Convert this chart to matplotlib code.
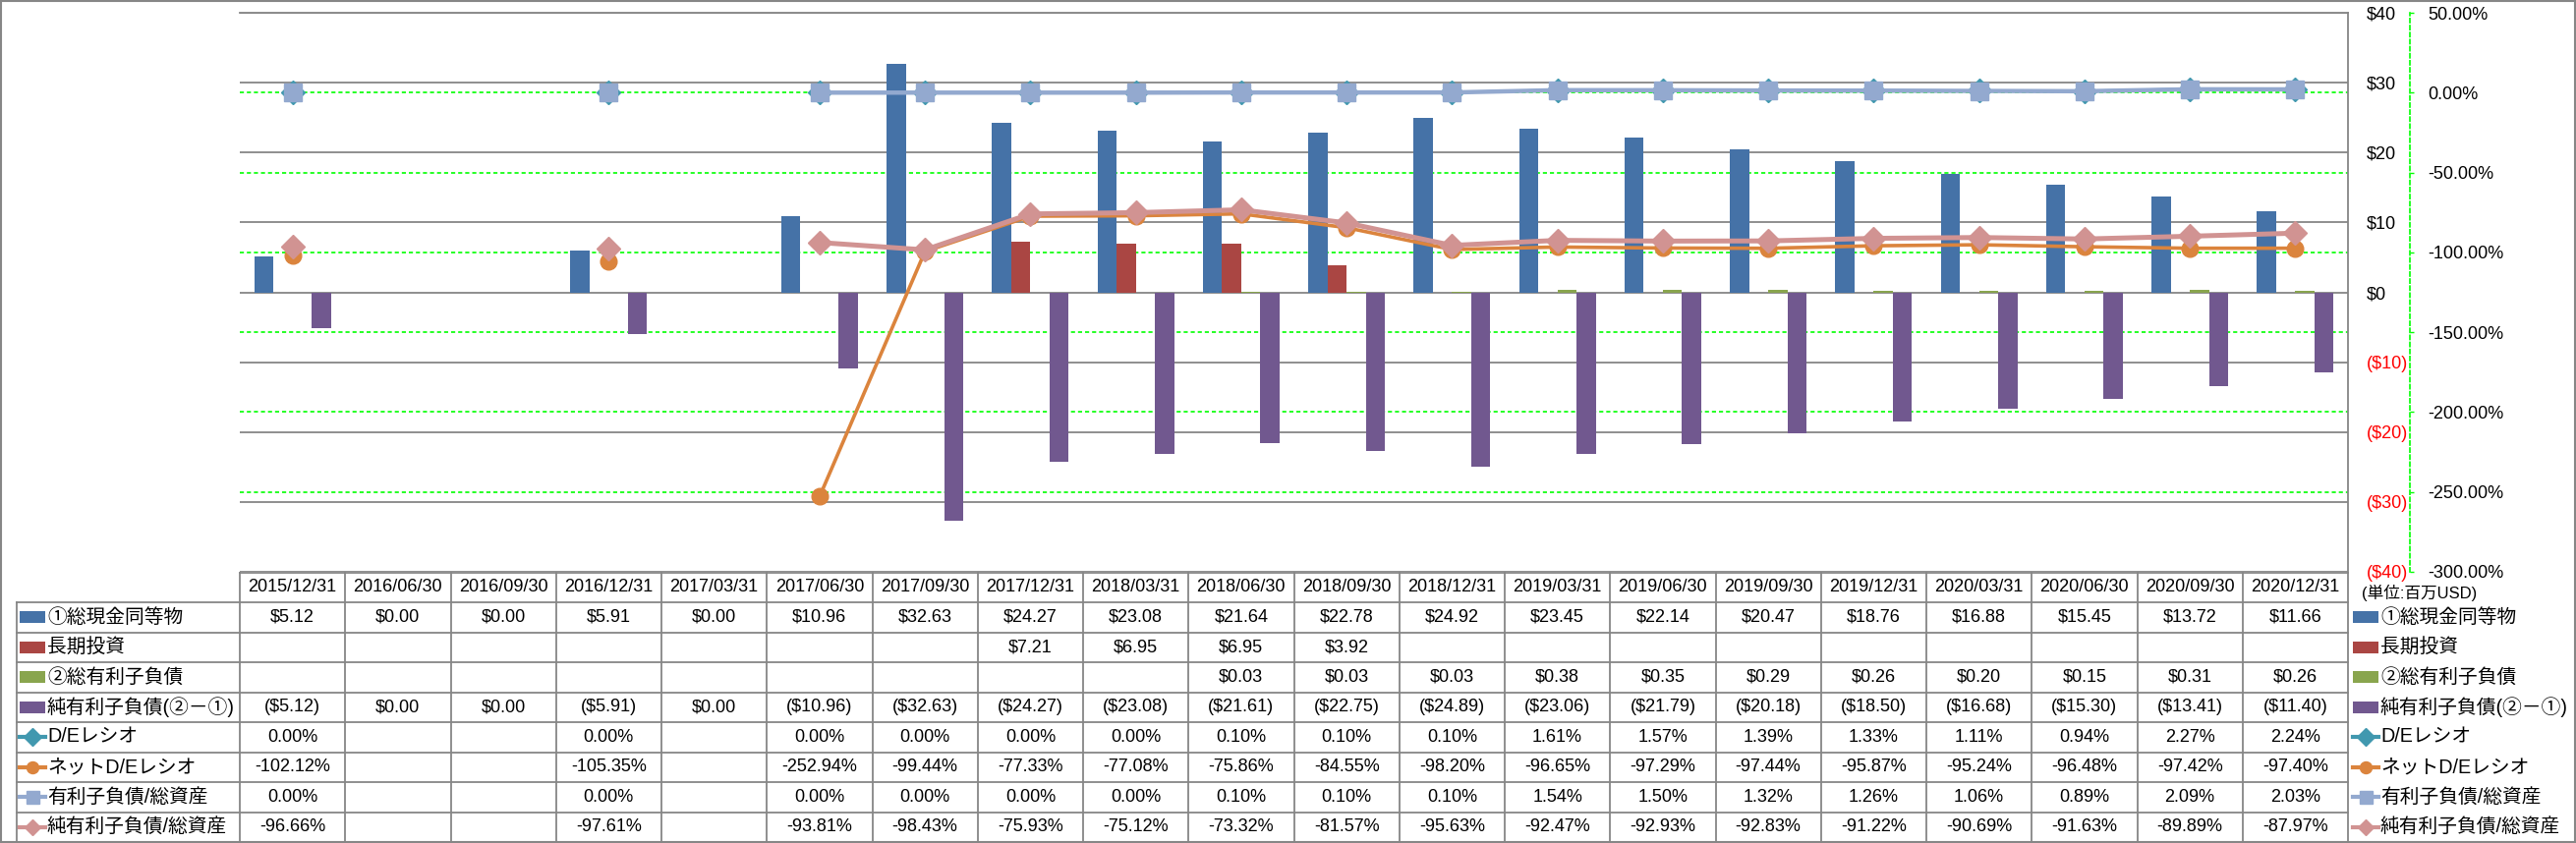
import numpy as np
import matplotlib
matplotlib.use("Agg")
import matplotlib.pyplot as plt
from matplotlib.transforms import blended_transform_factory
from matplotlib.lines import Line2D
from matplotlib.patches import Rectangle

plt.rcParams['font.family'] = ['Liberation Sans', 'Noto Sans CJK JP', 'DejaVu Sans']

nan = np.nan
dates = ["2015/12/31", "2016/06/30", "2016/09/30", "2016/12/31", "2017/03/31",
         "2017/06/30", "2017/09/30", "2017/12/31", "2018/03/31", "2018/06/30",
         "2018/09/30", "2018/12/31", "2019/03/31", "2019/06/30", "2019/09/30",
         "2019/12/31", "2020/03/31", "2020/06/30", "2020/09/30", "2020/12/31"]

cash = [5.12, 0.00, 0.00, 5.91, 0.00, 10.96, 32.63, 24.27, 23.08, 21.64,
        22.78, 24.92, 23.45, 22.14, 20.47, 18.76, 16.88, 15.45, 13.72, 11.66]
lt_invest = [nan, nan, nan, nan, nan, nan, nan, 7.21, 6.95, 6.95,
             3.92, nan, nan, nan, nan, nan, nan, nan, nan, nan]
debt = [nan, nan, nan, nan, nan, nan, nan, nan, nan, 0.03,
        0.03, 0.03, 0.38, 0.35, 0.29, 0.26, 0.20, 0.15, 0.31, 0.26]
net_debt = [-5.12, 0.00, 0.00, -5.91, 0.00, -10.96, -32.63, -24.27, -23.08, -21.61,
            -22.75, -24.89, -23.06, -21.79, -20.18, -18.50, -16.68, -15.30, -13.41, -11.40]

de_ratio = [0.00, nan, nan, 0.00, nan, 0.00, 0.00, 0.00, 0.00, 0.10,
            0.10, 0.10, 1.61, 1.57, 1.39, 1.33, 1.11, 0.94, 2.27, 2.24]
net_de_ratio = [-102.12, nan, nan, -105.35, nan, -252.94, -99.44, -77.33, -77.08, -75.86,
                -84.55, -98.20, -96.65, -97.29, -97.44, -95.87, -95.24, -96.48, -97.42, -97.40]
debt_assets = [0.00, nan, nan, 0.00, nan, 0.00, 0.00, 0.00, 0.00, 0.10,
               0.10, 0.10, 1.54, 1.50, 1.32, 1.26, 1.06, 0.89, 2.09, 2.03]
net_debt_assets = [-96.66, nan, nan, -97.61, nan, -93.81, -98.43, -75.93, -75.12, -73.32,
                   -81.57, -95.63, -92.47, -92.93, -92.83, -91.22, -90.69, -91.63, -89.89, -87.97]

bar_names = ["①総現金同等物", "長期投資", "②総有利子負債", "純有利子負債(②－①)"]
line_names = ["D/Eレシオ", "ネットD/Eレシオ", "有利子負債/総資産", "純有利子負債/総資産"]
unit_label = "(単位:百万USD)"

bar_series = [cash, lt_invest, debt, net_debt]
bar_colors = ["#4572A7", "#AA4643", "#89A54E", "#71588F"]
line_series = [de_ratio, net_de_ratio, debt_assets, net_debt_assets]
line_styles = [
    dict(color="#4198AF", marker="D", ms=12.5, lw=2.0),
    dict(color="#DB843D", marker="o", ms=12.0, lw=2.6),
    dict(color="#93A9CF", marker="s", ms=13.0, lw=3.2),
    dict(color="#D19392", marker="D", ms=12.0, lw=3.6),
]

W, H = 2621, 858
PX = 72 / 100  # points per pixel
fig = plt.figure(figsize=(W / 100, H / 100), dpi=100)
fig.patch.set_facecolor("white")

L, R, T, B = 244, 2389, 13, 582
GRAY = "#868686"
GREEN = "#00FF00"
FS = 13
FS_LAB = 14.2

tab = fig.add_axes([0, 0, 1, 1], zorder=0)
tab.set_xlim(0, W)
tab.set_ylim(H, 0)
tab.axis("off")
tab.patch.set_alpha(0)

ax = fig.add_axes([L / W, 1 - B / H, (R - L) / W, (B - T) / H], zorder=1)
ax.patch.set_alpha(0)
ax2 = ax.twinx()
ax2.patch.set_alpha(0)

n = len(dates)
x = np.arange(n)
ax.set_xlim(-0.5, n - 0.5)
ax.set_ylim(-40, 40)
ax2.set_ylim(-300, 50)

ax.set_yticks(np.arange(-40, 41, 10))
ax.yaxis.grid(True, color=GRAY, lw=1.3, zorder=0)
ax.set_axisbelow(True)
blend_pct = blended_transform_factory(ax.transAxes, ax2.transData)
for p in np.arange(-250, 1, 50):
    ax.add_line(Line2D([0, 1], [p, p], transform=blend_pct, color=GREEN,
                       lw=1.2, ls=(0, (2.5, 1.8)), zorder=0.6))

bw = 0.182
offs = [-1.5, -0.5, 0.5, 1.5]
for vals, col, o in zip(bar_series, bar_colors, offs):
    ax.bar(x + o * bw, np.array(vals, dtype=float), width=bw, color=col, zorder=2, linewidth=0)

for vals, st in zip(line_series, line_styles):
    ax2.plot(x, np.array(vals, dtype=float), color=st["color"], lw=st["lw"],
             marker=st["marker"], ms=st["ms"], mfc=st["color"], mec=st["color"],
             mew=1.0, solid_joinstyle="round", zorder=3)

ax.set_xticks([])
ax.yaxis.tick_right()
ax.tick_params(axis="y", length=0, pad=19 * PX, labelsize=FS)
def money_tick(v):
    if v < 0:
        return f"(${-v:.0f})"
    return f"${v:.0f}"
yt = np.arange(-40, 41, 10)
ax.set_yticklabels([money_tick(v) for v in yt])
for lab, v in zip(ax.get_yticklabels(), yt):
    lab.set_color("red" if v < 0 else "black")
for s in ["left", "bottom"]:
    ax.spines[s].set_visible(False)
for s in ["top", "right"]:
    ax.spines[s].set_color(GRAY)
    ax.spines[s].set_linewidth(1.3)

pt = np.arange(-300, 51, 50)
ax2.set_yticks(pt)
ax2.set_yticklabels([f"{v:.2f}%" for v in pt])
for lab, v in zip(ax2.get_yticklabels(), pt):
    lab.set_color("red" if v < 0 else "black")
ax2.tick_params(axis="y", length=4 * PX, width=1, color=GREEN, pad=14 * PX, labelsize=FS)
for s in ["left", "bottom", "top"]:
    ax2.spines[s].set_visible(False)
ax2.spines["right"].set_position(("outward", 63 * PX))
ax2.spines["right"].set_color(GREEN)
ax2.spines["right"].set_linestyle((0, (2.5, 1.8)))
ax2.spines["right"].set_linewidth(1.2)

# ---------- data table ----------
colT = blended_transform_factory(ax.transData, tab.transData)
hdr_top, hdr_bot = 583, 613
row_h = 30.5
row_tops = [hdr_bot + i * row_h for i in range(9)]
tbl_bot = row_tops[-1]
LEFT = 17

tab.plot([-0.5, n - 0.5], [hdr_top, hdr_top], transform=colT, color=GRAY, lw=1.3)
for yv in row_tops:
    tab.plot([LEFT, R], [yv, yv], color=GRAY, lw=1.3)
for b in range(n + 1):
    tab.plot([b - 0.5, b - 0.5], [hdr_top, tbl_bot], transform=colT, color=GRAY, lw=1.3)
tab.plot([LEFT, LEFT], [hdr_bot, tbl_bot], color=GRAY, lw=1.3)

for i, d in enumerate(dates):
    tab.text(i, (hdr_top + hdr_bot) / 2, d, transform=colT, ha="center", va="center", fontsize=FS)

def fmt_money(v):
    if np.isnan(v):
        return ""
    if v < 0:
        return f"(${-v:.2f})"
    return f"${v:.2f}"

def fmt_pct(v):
    if np.isnan(v):
        return ""
    return f"{v:.2f}%"

rows = [(bar_names[k], bar_series[k], fmt_money) for k in range(4)] + \
       [(line_names[k], line_series[k], fmt_pct) for k in range(4)]
for r, (name, vals, f) in enumerate(rows):
    yc = (row_tops[r] + row_tops[r + 1]) / 2
    for i, v in enumerate(vals):
        s = f(float(v))
        if s:
            tab.text(i, yc, s, transform=colT, ha="center", va="center", fontsize=FS)

def draw_key(x0, yc, k):
    if k < 4:
        tab.add_patch(Rectangle((x0, yc - 6), 26, 12, color=bar_colors[k], lw=0))
    else:
        st = line_styles[k - 4]
        tab.plot([x0, x0 + 26], [yc, yc], color=st["color"], lw=3)
        tab.plot([x0 + 13], [yc], marker=st["marker"], ms=st["ms"] * 0.72,
                 color=st["color"], mec=st["color"])

for r, (name, vals, f) in enumerate(rows):
    yc = (row_tops[r] + row_tops[r + 1]) / 2
    draw_key(20, yc, r)
    tab.text(48, yc, name, ha="left", va="center", fontsize=FS_LAB)
    draw_key(2394, yc, r)
    tab.text(2422, yc, name, ha="left", va="center", fontsize=FS_LAB)

tab.text(2403, 603, unit_label, ha="left", va="center", fontsize=12)

tab.add_patch(Rectangle((1, 1), W - 2.5, H - 2.5, fill=False, edgecolor=GRAY, lw=1.5))

fig.savefig("out.png", dpi=100, facecolor="white")
